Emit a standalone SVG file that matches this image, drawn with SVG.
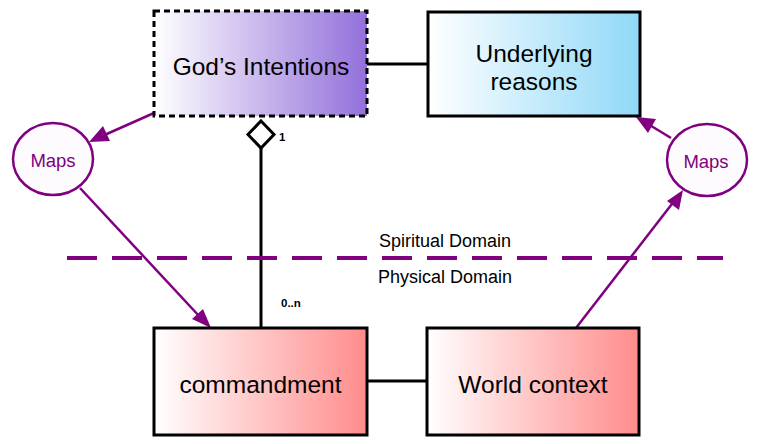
<svg xmlns="http://www.w3.org/2000/svg" width="768" height="444" viewBox="0 0 768 444">
<style>
  .box{stroke:#000;stroke-width:3}
  .lbl{font-family:"Liberation Sans",Arial,sans-serif;font-size:24.5px;fill:#000;text-anchor:middle}
  .maps{fill:#fdfbfd;stroke:#800080;stroke-width:2.5}
  .mapslbl{font-family:"Liberation Sans",Arial,sans-serif;font-size:18.5px;fill:#800080;text-anchor:middle}
  .arr{stroke:#800080;stroke-width:2.5;fill:none}
  .head{fill:#800080}
  .ln{stroke:#000;stroke-width:3;fill:none}
  .small{font-family:"Liberation Sans",Arial,sans-serif;font-size:11.5px;font-weight:bold;fill:#000}
  .dom{font-family:"Liberation Sans",Arial,sans-serif;font-size:18px;fill:#000;text-anchor:middle}
</style>
<defs>
  <linearGradient id="gP" x1="0" x2="1" y1="0" y2="0"><stop offset="0" stop-color="#ffffff"/><stop offset="1" stop-color="#9370db"/></linearGradient>
  <linearGradient id="gB" x1="0" x2="1" y1="0" y2="0"><stop offset="0" stop-color="#ffffff"/><stop offset="1" stop-color="#8fd8f8"/></linearGradient>
  <linearGradient id="gR" x1="0" x2="1" y1="0" y2="0"><stop offset="0" stop-color="#ffffff"/><stop offset="1" stop-color="#ff8c8c"/></linearGradient>
</defs>
<g id="connectors">
  <line class="ln" x1="367" y1="64" x2="428" y2="64"/>
  <line class="ln" x1="367" y1="381" x2="427" y2="381"/>
  <line class="ln" x1="261" y1="148" x2="261" y2="328"/>
  <path d="M261,121 L274,134.5 L261,148 L248,134.5 Z" fill="#fff" stroke="#000" stroke-width="3"/>
  <text class="small" x="279" y="141">1</text>
  <text class="small" x="281" y="307">0..n</text>
  <line x1="67" y1="258" x2="723" y2="258" stroke="#800080" stroke-width="4" stroke-dasharray="30,15"/>
  <path class="arr" d="M154,113 L100,137"/>
  <path class="head" d="M89,142 L103,126 L110,141 Z"/>
  <path class="arr" d="M80,188 L200,317"/>
  <path class="head" d="M211,328 L192,319 L203,309 Z"/>
  <path class="arr" d="M576,328 L675,200"/>
  <path class="head" d="M683,190 L679,210 L667,201 Z"/>
  <path class="arr" d="M671,138 L648,124"/>
  <path class="head" d="M636,117 L656,119 L648,133 Z"/>
</g>
<g id="gods-intentions">
  <rect x="154" y="11" width="213" height="105" fill="url(#gP)" stroke="#000" stroke-width="3" stroke-dasharray="6,4"/>
  <text class="lbl" x="261" y="75">God’s Intentions</text>
</g>
<g id="underlying-reasons">
  <rect class="box" x="428" y="12" width="212" height="104" fill="url(#gB)"/>
  <text class="lbl" x="534" y="62">Underlying</text>
  <text class="lbl" x="534" y="90">reasons</text>
</g>
<g id="maps-left">
  <ellipse class="maps" cx="53" cy="159" rx="40" ry="36"/>
  <text class="mapslbl" x="53" y="167">Maps</text>
</g>
<g id="maps-right">
  <ellipse class="maps" cx="707" cy="160" rx="40" ry="36"/>
  <text class="mapslbl" x="706" y="168">Maps</text>
</g>
<g id="commandment">
  <rect class="box" x="154" y="328" width="213" height="107" fill="url(#gR)"/>
  <text class="lbl" x="260.5" y="393">commandment</text>
</g>
<g id="world-context">
  <rect class="box" x="427" y="328" width="212" height="107" fill="url(#gR)"/>
  <text class="lbl" x="533" y="393">World context</text>
</g>
<g id="domains">
  <text class="dom" x="445" y="247">Spiritual Domain</text>
  <text class="dom" x="445" y="283">Physical Domain</text>
</g>
</svg>
